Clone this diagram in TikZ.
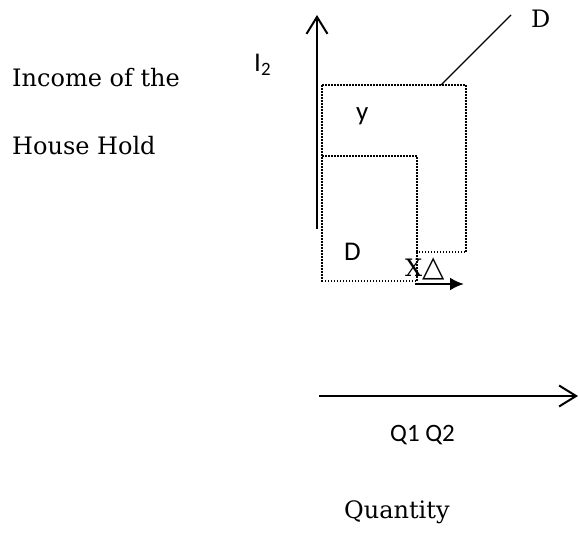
\documentclass[tikz,border=0pt]{standalone}
\usepackage{fontspec}
\setmainfont{DejaVu Serif}
\newfontfamily\calfont{Carlito}
\newfontfamily\symfont{DejaVu Sans}
\usetikzlibrary{arrows.meta}

\begin{document}
\begin{tikzpicture}[x=1pt, y=-1pt,
  lbl/.style={font=\fontsize{24}{28}\selectfont, inner sep=0pt, anchor=base west},
  sans/.style={font=\calfont\fontsize{27}{32}\selectfont, inner sep=0pt, anchor=base west},
  axis/.style={-{Straight Barb[length=17pt,width=21pt]}, line width=2pt},
  box/.style={dash pattern=on 1.5pt off 1.5pt, line width=1.5pt},
  move/.style={-{Latex[length=14pt,width=13pt]}, line width=2.5pt}
]
  \useasboundingbox (0,0) rectangle (579,535);

  % axes
  \coordinate (ybot) at (317,229);
  \coordinate (ytop) at (317,15);
  \coordinate (xleft) at (319,396);
  \coordinate (xright) at (578,396);
  \draw[axis] (ybot) -- (ytop);
  \draw[axis] (xleft) -- (xright);

  % budget areas
  \draw[box] (322,85) -- (466,85) -- (466,252) -- (417,252) -- (417,281) -- (322,281) -- cycle;
  \draw[box] (322,156) -- (417,156) -- (417,252);

  \coordinate (corner) at (441,85);
  \coordinate (dend) at (511,15);
  \draw[line width=1.3pt] (corner) -- (dend);

  % labels
  \node[lbl] (inc) at (12,87) {Income of the};
  \node[lbl] (hh) at (12,154) {House Hold};
  \node[sans] (itwo) at (254,72) {I\textsubscript{2}};
  \node[sans] (ylab) at (356,121) {y};
  \node[sans] (dlow) at (344,260) {D};
  \node[lbl] (dtop) at (531,28) {D};
  \node[lbl] (xdelta) at (405,276) {X{\symfont\fontsize{29}{32}\selectfont △}};
  \node[sans, font=\calfont\fontsize{25}{30}\selectfont] (qq) at (390,441) {Q1 Q2};
  \node[lbl] (qty) at (344,518) {Quantity};

  \coordinate (mvstart) at (415,284);
  \coordinate (mvend) at (464,284);
  \draw[move] (mvstart) -- (mvend);
\end{tikzpicture}
\end{document}
